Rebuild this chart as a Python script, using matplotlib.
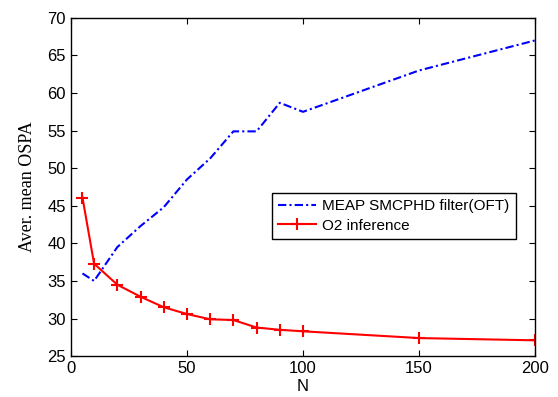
import numpy as np
import matplotlib.pyplot as plt

N = [5, 10, 20, 30, 40, 50, 60, 70, 80, 90, 100, 150, 200]
meap = [36.0, 35.0, 39.5, 42.3, 44.8, 48.5, 51.3, 54.9, 54.9, 58.7, 57.5, 63.0, 67.0]
o2 = [46.1, 37.3, 34.5, 32.9, 31.5, 30.6, 29.9, 29.8, 28.8, 28.5, 28.3, 27.4, 27.1]

plt.rcParams['font.family'] = ['Liberation Sans', 'DejaVu Sans']
plt.rcParams['font.size'] = 11

fig = plt.figure(figsize=(5.58, 3.97), dpi=100)
ax = fig.add_axes([0.127, 0.103, 0.832, 0.852])

ax.plot(N, meap, color='blue', linestyle=(0, (4, 1.5, 1, 1.5)), linewidth=1.5,
        label='MEAP SMCPHD filter(OFT)')
ax.plot(N, o2, color='red', linestyle='-', linewidth=1.5, marker='+', markersize=8,
        markeredgewidth=1.5, label='O2 inference')

ax.set_xlim(0, 200)
ax.set_ylim(25, 70)
ax.set_xticks([0, 50, 100, 150, 200])
ax.set_yticks(np.arange(25, 71, 5))
ax.tick_params(direction='in', top=True, right=True, length=4, labelsize=12)
for s in ax.spines.values():
    s.set_linewidth(1.0)

ax.set_xlabel('N', fontsize=12, labelpad=2)
ax.set_ylabel('Aver. mean OSPA', family='Liberation Serif', fontsize=13, labelpad=8)

leg = ax.legend(loc='upper left', bbox_to_anchor=(0.433, 0.482), fontsize=11,
                fancybox=False, framealpha=1, edgecolor='black', borderpad=0.4,
                handlelength=2.5, handletextpad=0.4, labelspacing=0.35, borderaxespad=0)
leg.get_frame().set_linewidth(1.0)

fig.savefig('out.png', dpi=100)
